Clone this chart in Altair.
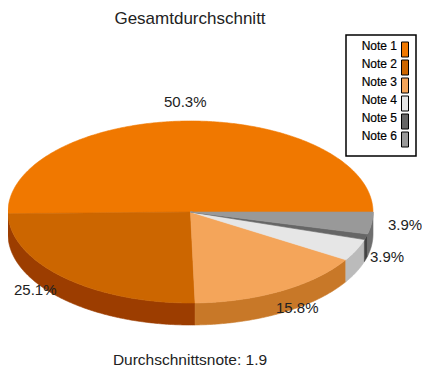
import math
import altair as alt

notes = ["Note 1", "Note 2", "Note 3", "Note 4", "Note 5", "Note 6"]
shares = [50.3, 25.1, 15.8, 3.9, 1.0, 3.9]
top_colors = ["#F07800", "#CC6600", "#F4A55A", "#E6E6E6", "#666666", "#999999"]
side_colors = ["#B85C00", "#9C3D00", "#C87828", "#BBBBBB", "#444444", "#6E6E6E"]

label_texts = ["50.3%", "25.1%", "15.8%", "3.9%", "3.9%"]
label_x = [164, 14, 276, 388, 370]
label_y = [102, 290, 308, 225, 257]

title_text = "Gesamtdurchschnitt"
footer_text = "Durchschnittsnote: 1.9"

OX, OY = 8, 8          # page margin
cx, cy = 190.5 - OX, 212 - OY
rx, ry = 182.5, 91
depth = 22
FONT = "Liberation Sans"


def pt(a, dy=0.0):
    return [cx + rx * math.cos(a), cy + ry * math.sin(a) + dy]


def arc(a0, a1):
    n = max(2, int(abs(a1 - a0) / 0.01))
    return [a0 + (a1 - a0) * i / n for i in range(n + 1)]


total = sum(shares)
tops, sides = [], []
start = 0.0
for name, share in zip(notes, shares):
    # slices run anticlockwise from 3 o'clock; screen y points down
    end = start + share / total * 2 * math.pi
    a0, a1 = 2 * math.pi - start, 2 * math.pi - end
    ring = [[cx, cy]] + [pt(a) for a in arc(a0, a1)] + [[cx, cy]]
    tops.append({"type": "Feature", "properties": {"k": name},
                 "geometry": {"type": "Polygon", "coordinates": [ring]}})
    # the wall is visible only on the near half of the ellipse (0..pi in screen terms)
    l, h = max(a1, 0.0), min(a0, math.pi)
    if h > l:
        pts = arc(l, h)
        wall = [pt(a) for a in pts] + [pt(a, depth) for a in reversed(pts)]
        wall.append(wall[0])
        sides.append({"type": "Feature", "properties": {"k": name},
                      "geometry": {"type": "Polygon", "coordinates": [wall]}})
    start = end


def shapes(features, colors):
    return (
        alt.Chart(alt.InlineData(values={"type": "FeatureCollection", "features": features},
                                 format=alt.DataFormat(property="features", type="json")))
        .mark_geoshape(strokeWidth=0.6)
        .encode(
            color=alt.Color("properties.k:N", legend=None,
                            scale=alt.Scale(domain=notes, range=colors)),
            stroke=alt.Color("properties.k:N", legend=None,
                             scale=alt.Scale(domain=notes, range=colors)),
        )
        .project(type="identity", scale=1, translate=[0, 0])
    )


side_layer = shapes(sides, side_colors)
top_layer = shapes(tops, top_colors)

labels = alt.Chart(alt.Data(values=[
    {"t": t, "px": x - OX, "py": y - OY} for t, x, y in zip(label_texts, label_x, label_y)
])).mark_text(font=FONT, fontSize=15, color="#222222", align="left", baseline="middle").encode(
    x=alt.X("px:Q", scale=None), y=alt.Y("py:Q", scale=None), text="t:N")

title_layer = alt.Chart(alt.Data(values=[
    {"t": title_text, "px": 190 - OX, "py": 11},
])).mark_text(font=FONT, fontSize=17, color="#222222", align="center", baseline="middle").encode(
    x=alt.X("px:Q", scale=None), y=alt.Y("py:Q", scale=None), text="t:N")

footer_layer = alt.Chart(alt.Data(values=[
    {"t": footer_text, "px": 190 - OX, "py": 352},
])).mark_text(font=FONT, fontSize=15.5, color="#222222", align="center", baseline="middle").encode(
    x=alt.X("px:Q", scale=None), y=alt.Y("py:Q", scale=None), text="t:N")

frame = alt.Chart(alt.Data(values=[{"a": 0}])).mark_rect(
    fill="white", stroke="black", strokeWidth=1.5
).encode(x=alt.value(346 - OX), x2=alt.value(416 - OX), y=alt.value(35 - OY), y2=alt.value(156 - OY))

rows = [{"n": n, "c": c, "py": 49.5 - OY + 18 * i} for i, (n, c) in enumerate(zip(notes, top_colors))]
swatches = alt.Chart(alt.Data(values=rows)).mark_rect(
    width=7, height=15, stroke="black", strokeWidth=1
).encode(x=alt.value(405 - OX), y=alt.Y("py:Q", scale=None),
         fill=alt.Fill("c:N", scale=None))
names = alt.Chart(alt.Data(values=rows)).mark_text(
    font=FONT, fontSize=12, color="black", align="right", baseline="middle", dy=-4, stroke="black", strokeWidth=0.2
).encode(x=alt.value(397 - OX), y=alt.Y("py:Q", scale=None), text="n:N")

chart = (
    alt.layer(side_layer, top_layer, labels, title_layer, footer_layer, frame, swatches, names)
    .resolve_scale(color="independent", stroke="independent")
    .properties(width=414, height=360, padding=0, autosize=alt.AutoSizeParams(type="none"))
    .configure_view(stroke=None)
)

chart.save("out.html", embed_options={"renderer": "svg", "actions": False})
